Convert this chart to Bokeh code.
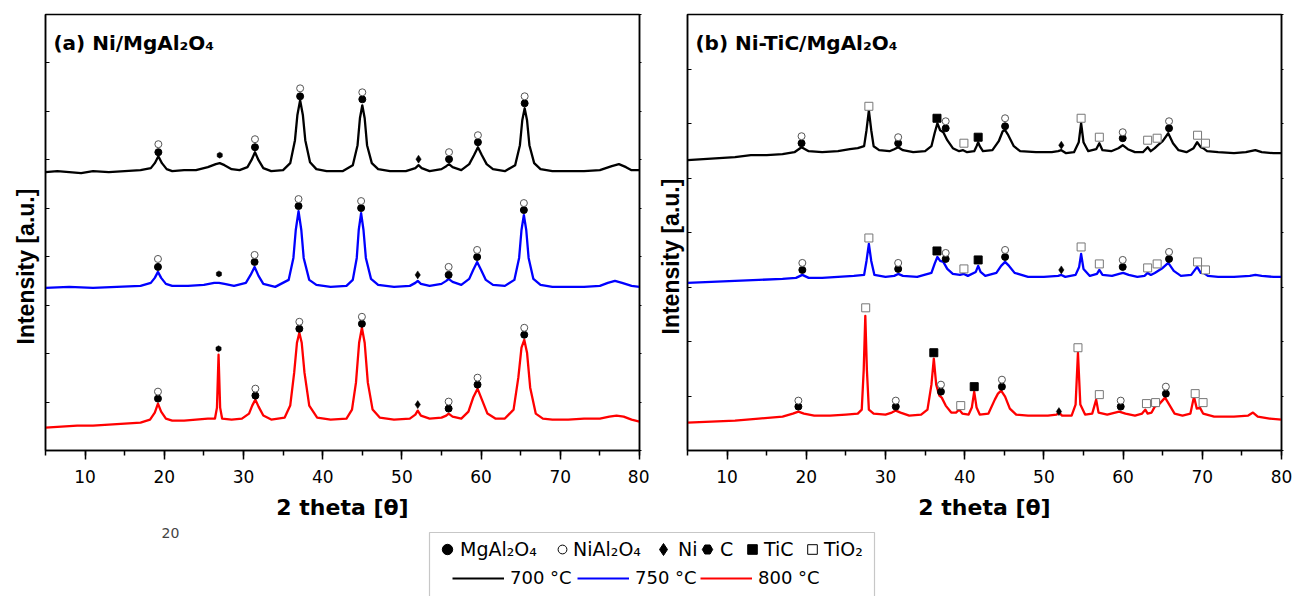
import numpy as np
from bokeh.plotting import figure
from bokeh.models import (Range1d, LinearAxis, SingleIntervalTicker, FixedTicker,
                          Label, Legend, LegendItem, BoxAnnotation, Title)
from bokeh.layouts import column, row
from bokeh.embed import file_html
from bokeh.resources import INLINE

FONT = "Liberation Sans"
WIDE = "DejaVu Sans"

# ---------------- data: panel (a) Ni/MgAl2O4 ----------------
# 2 theta [deg] and intensity [a.u.] above each pattern's own baseline
a700_x = [5.0, 6.5, 8.0, 9.5, 11.0, 13.0, 15.0, 17.0, 18.3, 18.8, 19.25, 19.7, 20.3, 21.0, 22.5, 24.0, 25.5, 26.5, 27.0, 27.6, 28.5, 29.5, 30.5, 31.0, 31.45, 31.9, 32.5, 33.5, 35.0, 35.9, 36.5, 36.8, 37.15, 37.5, 37.8, 38.4, 39.2, 40.5, 42.5, 43.8, 44.4, 44.7, 45.0, 45.3, 45.6, 46.2, 47.0, 48.5, 50.5, 51.7, 52.1, 52.5, 53.5, 55.0, 55.6, 55.95, 56.4, 57.5, 58.5, 59.1, 59.6, 60.1, 60.7, 61.5, 63.0, 64.3, 64.9, 65.2, 65.5, 65.8, 66.1, 66.7, 67.5, 69.0, 71.0, 73.0, 75.0, 76.5, 77.4, 78.3, 79.0, 80.0]
a700_y = [0, 1, 0, -1, 1, 0, 1, 2, 4, 9, 16, 9, 3, 1, 2, 2, 5, 8, 9, 7, 3, 2, 5, 12, 20, 12, 4, 1, 2, 9, 32, 57, 72, 57, 32, 10, 3, 1, 1, 7, 27, 54, 67, 54, 27, 9, 3, 1, 1, 4, 7, 4, 1, 3, 6, 8, 5, 2, 8, 17, 25, 17, 8, 3, 1, 7, 27, 52, 64, 52, 27, 9, 3, 1, 1, 1, 2, 6, 8, 5, 2, 2]

a750_x = [5, 8, 11, 14, 17, 18.3, 18.8, 19.2, 19.6, 20.2, 21, 23, 25, 26.3, 26.9, 27.6, 28.8, 30.3, 30.9, 31.4, 31.9, 32.5, 34, 35.7, 36.3, 36.6, 36.95, 37.3, 37.6, 38.3, 39.2, 41, 43, 43.8, 44.3, 44.55, 44.85, 45.15, 45.45, 46.1, 47, 49, 51, 51.7, 52.0, 52.4, 53.5, 55, 55.6, 55.9, 56.4, 57.5, 58.5, 59.0, 59.5, 60.0, 60.6, 61.5, 63, 64.2, 64.8, 65.1, 65.4, 65.7, 66.0, 66.6, 67.5, 69, 71, 73, 75, 76, 76.9, 77.8, 79, 80]
a750_y = [0, 1, 0, 1, 2, 5, 10, 16, 10, 4, 2, 2, 3, 5, 5, 4, 2, 5, 13, 21, 12, 4, 1, 8, 30, 58, 77, 58, 30, 8, 3, 1, 2, 8, 30, 58, 75, 58, 30, 9, 3, 1, 2, 5, 7, 4, 2, 4, 7, 9, 6, 3, 9, 18, 26, 18, 8, 3, 2, 8, 30, 58, 73, 58, 30, 9, 3, 1, 1, 1, 2, 5, 7, 5, 2, 1]

a800_x = [5, 7, 9, 11, 13, 15, 17, 18.2, 18.8, 19.2, 19.6, 20.2, 21, 22.5, 24, 25.5, 26.4, 26.65, 26.85, 27.05, 27.3, 28.5, 29.8, 30.7, 31.1, 31.5, 31.9, 32.5, 33.5, 35.2, 35.9, 36.4, 36.75, 37.05, 37.35, 37.7, 38.3, 39.3, 41, 43, 43.7, 44.2, 44.6, 44.95, 45.3, 45.7, 46.3, 47.2, 49, 51, 51.7, 52.0, 52.4, 53.5, 55, 55.6, 55.9, 56.4, 57.5, 58.4, 59.0, 59.55, 60.1, 60.8, 61.8, 63, 64.1, 64.7, 65.1, 65.45, 65.8, 66.2, 66.9, 67.8, 69, 71, 73, 75, 76.2, 77.1, 78, 79, 80]
a800_y = [0, 1, 2, 2, 3, 4, 5, 8, 15, 24, 16, 9, 7, 7, 8, 9, 9, 20, 73, 20, 9, 8, 9, 14, 22, 28, 21, 12, 8, 10, 22, 55, 85, 95, 85, 55, 22, 10, 8, 9, 18, 45, 85, 100, 85, 45, 18, 10, 8, 9, 13, 17, 12, 9, 10, 12, 14, 11, 9, 16, 30, 39, 28, 14, 9, 9, 18, 50, 80, 88, 75, 40, 14, 9, 8, 8, 9, 9, 11, 12, 11, 8, 6]

# vertical stacking offsets of the three patterns [a.u.]
a_offsets = {"700": 279, "750": 163, "800": 23}

# phase markers, panel (a)
a_mk_phase = ["mg", "nial", "c", "mg", "nial", "mg", "nial", "mg", "nial", "ni", "mg", "nial", "mg", "nial", "mg", "nial"]
a700_mk_x = [19.25, 19.25, 27.0, 31.45, 31.45, 37.15, 37.15, 45.0, 45.0, 52.1, 55.95, 55.95, 59.6, 59.6, 65.5, 65.5]
a700_mk_y = [20, 28, 17, 25, 33, 76, 84, 73, 80, 13, 13, 20, 30, 37, 69, 76]
a750_mk_x = [19.2, 19.2, 26.9, 31.4, 31.4, 36.95, 36.95, 44.85, 44.85, 52.0, 55.9, 55.9, 59.5, 59.5, 65.4, 65.4]
a750_mk_y = [21, 29, 14, 26, 33, 82, 89, 80, 87, 13, 13, 21, 31, 38, 78, 85]
a800_mk_x = [19.2, 19.2, 26.85, 31.5, 31.5, 37.05, 37.05, 44.95, 44.95, 52.0, 55.9, 55.9, 59.55, 59.55, 65.45, 65.45]
a800_mk_y = [29, 36, 79, 32, 39, 99, 106, 104, 111, 23, 19, 26, 43, 50, 93, 100]

# ---------------- data: panel (b) Ni-TiC/MgAl2O4 ----------------
b700_x = [5, 7, 9, 11, 13, 15, 17, 18.5, 19.4, 20.3, 22, 24, 25.5, 26.5, 27.3, 27.6, 27.9, 28.2, 28.5, 29.2, 30.5, 31.1, 31.6, 32.2, 33.5, 35, 35.8, 36.2, 36.55, 36.9, 37.3, 37.8, 38.5, 39.3, 39.8, 40.3, 41.2, 41.5, 41.7, 41.9, 42.3, 43.5, 44.3, 44.8, 45.1, 45.5, 46.2, 47, 49, 51, 51.8, 52.2, 52.8, 53.8, 54.4, 54.7, 55.0, 55.6, 56.6, 57.0, 57.4, 58.5, 59.4, 59.95, 60.6, 61.5, 62.5, 63.1, 63.5, 64.0, 64.4, 65.0, 65.7, 66.3, 67, 68, 68.9, 69.35, 69.8, 70.1, 70.6, 72, 74, 75.5, 76.7, 77.5, 79, 80]
b700_y = [0, 1, 2, 3, 5, 5, 6, 8, 13, 9, 8, 9, 11, 12, 14, 30, 50, 30, 14, 10, 9, 11, 13, 10, 8, 9, 14, 27, 37, 30, 28, 20, 12, 9, 10, 8, 9, 14, 18, 14, 9, 10, 19, 29, 30, 25, 14, 9, 8, 8, 9, 10, 7, 8, 18, 37, 18, 9, 11, 17, 10, 9, 12, 15, 11, 8, 8, 13, 9, 12, 15, 19, 27, 17, 10, 8, 12, 18, 13, 12, 9, 8, 7, 8, 10, 8, 7, 7]

b750_x = [5, 8, 11, 14, 17, 18.7, 19.5, 20.3, 22, 24, 26, 27.3, 27.6, 27.9, 28.2, 28.6, 30, 31.1, 31.6, 32.2, 34, 35.8, 36.2, 36.55, 36.9, 37.3, 37.8, 38.5, 39.4, 39.9, 40.4, 41.4, 41.7, 42.0, 42.6, 44.0, 44.6, 45.1, 45.6, 46.3, 48, 50, 51.8, 52.2, 52.7, 54.0, 54.45, 54.7, 55.0, 55.8, 56.7, 57.0, 57.4, 58.6, 59.5, 60.0, 60.7, 61.8, 62.7, 63.1, 63.5, 64.0, 64.4, 65.0, 65.7, 66.4, 67.3, 68.6, 69.35, 69.8, 70.15, 70.7, 72, 74, 76, 76.7, 77.5, 79, 80]
b750_y = [0, 1, 2, 3, 4, 5, 8, 5, 5, 6, 7, 8, 22, 39, 22, 8, 6, 7, 9, 7, 6, 10, 19, 26, 22, 21, 14, 9, 8, 9, 7, 11, 17, 11, 7, 10, 17, 21, 17, 10, 6, 6, 7, 8, 6, 8, 16, 29, 14, 7, 9, 13, 8, 7, 9, 10, 8, 6, 7, 10, 8, 10, 12, 15, 20, 12, 7, 8, 16, 10, 10, 7, 6, 6, 7, 8, 7, 6, 6]

b800_x = [5, 8, 11, 14, 17, 18.3, 19.0, 19.7, 21, 23, 25, 26.5, 27.0, 27.25, 27.45, 27.65, 27.9, 28.5, 30, 30.8, 31.3, 31.9, 33, 34.5, 35.3, 35.8, 36.1, 36.4, 36.8, 37.1, 37.6, 38.3, 38.9, 39.3, 39.7, 40.5, 40.9, 41.2, 41.5, 41.9, 43.0, 43.8, 44.2, 44.6, 45.1, 45.7, 46.5, 48, 50.5, 51.6, 51.9, 52.3, 53.5, 54.0, 54.3, 54.6, 55.2, 56.1, 56.6, 56.9, 58, 59.5, 60.3, 61.5, 62.4, 62.8, 63.1, 63.6, 64.0, 64.5, 65.3, 65.9, 66.5, 67.5, 68.5, 68.95, 69.3, 69.7, 70.1, 71.5, 74, 75.8, 76.4, 77, 78.5, 80]
b800_y = [0, 1, 2, 4, 6, 9, 11, 9, 7, 7, 8, 9, 13, 53, 107, 53, 13, 9, 8, 10, 12, 10, 7, 8, 13, 38, 64, 38, 27, 25, 17, 10, 10, 13, 9, 8, 15, 31, 15, 8, 9, 23, 29, 32, 26, 14, 8, 7, 7, 8, 10, 7, 7, 18, 70, 18, 8, 9, 23, 10, 8, 11, 9, 7, 9, 13, 9, 10, 16, 18, 25, 17, 9, 7, 9, 26, 14, 15, 9, 6, 6, 7, 10, 6, 4, 3]

b_offsets = {"700": 291, "750": 168, "800": 28}

b_mk_phase = ["mg", "nial", "tio2", "mg", "nial", "tic", "mg", "nial", "tio2", "tic", "mg", "nial", "ni", "tio2", "tio2", "mg", "nial", "tio2", "tio2", "mg", "nial", "tio2", "tio2"]
b700_mk_x = [19.4, 19.4, 27.9, 31.6, 31.6, 36.5, 37.6, 37.6, 39.9, 41.7, 45.1, 45.1, 52.2, 54.7, 57.0, 59.95, 59.95, 63.1, 64.3, 65.8, 65.8, 69.4, 70.4]
b700_mk_y = [17, 24, 54, 17, 23, 42, 32, 39, 17, 23, 34, 42, 15, 42, 23, 22, 28, 20, 22, 32, 39, 25, 17]
b750_mk_x = [19.5, 19.5, 27.9, 31.6, 31.6, 36.5, 37.6, 37.6, 39.9, 41.7, 45.1, 45.1, 52.2, 54.7, 57.0, 59.95, 59.95, 63.1, 64.3, 65.8, 65.8, 69.4, 70.4]
b750_mk_y = [13, 20, 45, 14, 20, 32, 24, 30, 14, 23, 26, 33, 13, 36, 19, 16, 23, 15, 19, 24, 31, 21, 13]
b800_mk_x = [19.0, 19.0, 27.5, 31.3, 31.3, 36.1, 37.0, 37.0, 39.5, 41.2, 44.7, 44.7, 51.9, 54.3, 57.0, 59.7, 59.7, 62.95, 64.1, 65.4, 65.4, 69.1, 70.1]
b800_mk_y = [16, 22, 115, 16, 22, 70, 31, 38, 17, 36, 36, 43, 11, 75, 28, 16, 22, 19, 20, 29, 36, 29, 20]

temps = ["700", "750", "800"]
temp_labels = ["700 \u00b0C", "750 \u00b0C", "800 \u00b0C"]
temp_colors = ["#000000", "#0000ff", "#ff0000"]

phase_names = {"mg": "MgAl\u2082O\u2084", "nial": "NiAl\u2082O\u2084", "ni": "Ni",
               "c": "C", "tic": "TiC", "tio2": "TiO\u2082"}
phase_order = ["mg", "nial", "ni", "c", "tic", "tio2"]

# ---------------- styles ----------------
MARK = {
    "mg":   dict(marker="circle", size=7, fill_color="#000000", line_color="#000000", line_width=1),
    "nial": dict(marker="circle", size=7, fill_color="#ffffff", line_color="#555555", line_width=1),
    "ni":   dict(marker="diamond", size=8, fill_color="#000000", line_color="#000000", line_width=0.5),
    "c":    dict(marker="hex", size=6, angle=np.pi / 2, fill_color="#000000", line_color="#000000", line_width=0.5),
    "tic":  dict(marker="square", size=8, fill_color="#000000", line_color="#000000", line_width=1),
    "tio2": dict(marker="square", size=8, fill_color="#ffffff", line_color="#777777", line_width=1),
}

Y_TOP = 437
PANEL_H = 522


def make_panel(title, series, offsets, mk_phase, n_yint, width, bl, br, ylab_offset, ylab_standoff):
    p = figure(width=width, height=PANEL_H, x_range=Range1d(5, 80), y_range=Range1d(0, Y_TOP),
               toolbar_location=None, output_backend="svg",
               min_border_left=bl, min_border_right=br, min_border_top=14,
               min_border_bottom=PANEL_H - 14 - Y_TOP)
    p.grid.visible = False
    p.outline_line_color = "#000000"
    p.outline_line_width = 1.5
    p.background_fill_color = "#ffffff"
    p.border_fill_color = "#ffffff"

    xa = p.xaxis[0]
    xa.ticker = SingleIntervalTicker(interval=10, num_minor_ticks=2)
    xa.axis_line_width = 1.5
    xa.major_tick_line_width = 1.5
    xa.minor_tick_line_width = 1.5
    xa.major_tick_out = 9
    xa.major_tick_in = 0
    xa.minor_tick_out = 5
    xa.minor_tick_in = 0
    xa.major_label_text_font = WIDE
    xa.major_label_text_font_size = "17px"
    xa.major_label_text_color = "#000000"
    xa.major_label_standoff = 10
    xa.axis_label = "2 theta [\u03b8]"
    xa.axis_label_text_font = WIDE
    xa.axis_label_text_font_style = "bold"
    xa.axis_label_text_font_size = "22px"
    xa.axis_label_text_color = "#000000"
    xa.axis_label_standoff = 9

    yticks = list(np.linspace(0, Y_TOP, n_yint + 1))
    ya = p.yaxis[0]
    ya.ticker = FixedTicker(ticks=yticks, minor_ticks=[])
    ya.axis_line_width = 1.5
    ya.major_tick_in = 4
    ya.major_tick_out = 0
    ya.major_tick_line_width = 1
    ya.major_label_text_font_size = "1px"
    ya.major_label_text_color = None
    ya.major_label_standoff = 0

    ra = LinearAxis(ticker=FixedTicker(ticks=yticks, minor_ticks=[]),
                    major_tick_in=0, major_tick_out=2, major_tick_line_width=1,
                    major_label_text_font_size="1px", major_label_text_color=None,
                    major_label_standoff=0, axis_line_width=1.5)
    p.add_layout(ra, "right")

    p.add_layout(Title(text="Intensity [a.u.]", align="left", offset=ylab_offset,
                       standoff=ylab_standoff, text_font=FONT, text_font_style="bold",
                       text_font_size="23px", text_color="#000000"), "left")

    for t, color in zip(temps, temp_colors):
        xs, ys, mx, my = series[t]
        off = offsets[t]
        p.line(xs, [v + off for v in ys], line_color=color, line_width=2.3, line_join="round")
    for t in temps:
        xs, ys, mx, my = series[t]
        off = offsets[t]
        for ph in phase_order:
            sx = [x for x, k in zip(mx, mk_phase) if k == ph]
            sy = [y + off for y, k in zip(my, mk_phase) if k == ph]
            if sx:
                p.scatter(sx, sy, **MARK[ph])

    p.add_layout(Label(x=6.0, y=408, text=title, text_font=WIDE, text_font_style="bold",
                       text_font_size="20px", text_color="#000000", text_baseline="alphabetic"))
    return p


series_a = {"700": (a700_x, a700_y, a700_mk_x, a700_mk_y),
            "750": (a750_x, a750_y, a750_mk_x, a750_mk_y),
            "800": (a800_x, a800_y, a800_mk_x, a800_mk_y)}
series_b = {"700": (b700_x, b700_y, b700_mk_x, b700_mk_y),
            "750": (b750_x, b750_y, b750_mk_x, b750_mk_y),
            "800": (b800_x, b800_y, b800_mk_x, b800_mk_y)}

pa = make_panel("(a) Ni/MgAl\u2082O\u2084", series_a, a_offsets, a_mk_phase, 9, 649, 45, 10, 106, 14)
pb = make_panel("(b) Ni-TiC/MgAl\u2082O\u2084", series_b, b_offsets, b_mk_phase, 8, 644, 38, 12, 116, 8)

# ---------------- legend strip ----------------
LW, LH = 1293, 596 - PANEL_H
pl = figure(width=LW, height=LH, x_range=Range1d(0, LW), y_range=Range1d(0, LH),
            toolbar_location=None, output_backend="svg", x_axis_type=None, y_axis_type=None,
            min_border=0)
pl.grid.visible = False
pl.outline_line_color = None
pl.background_fill_color = "#ffffff"
pl.border_fill_color = "#ffffff"
pl.add_layout(BoxAnnotation(left=429, right=874, top=596 - 532, bottom=-30, fill_alpha=0,
                            line_color="#444444", line_width=1.2))

# stray "20" text under panel (a)
pl.add_layout(Label(x=170, y=LH - 10, text="20", text_font=WIDE, text_font_size="14px",
                    text_color="#444444", text_align="center", text_baseline="middle"))

LEG_MARK = {
    "mg":   dict(marker="circle", fill_color="#000000", line_color="#000000"),
    "nial": dict(marker="circle", fill_color="#ffffff", line_color="#000000", line_width=1),
    "ni":   dict(marker="diamond", fill_color="#000000", line_color="#000000"),
    "c":    dict(marker="hex", angle=np.pi / 2, fill_color="#000000", line_color="#000000"),
    "tic":  dict(marker="square", fill_color="#000000", line_color="#000000"),
    "tio2": dict(marker="square", fill_color="#ffffff", line_color="#000000", line_width=1),
}
# legend key box sizes (marker drawn at 0.4 x box) and key centres in page pixels
leg_box = {"mg": 26, "nial": 22, "ni": 30, "c": 26, "tic": 24, "tio2": 24}
leg_cx = {"mg": 447, "nial": 562, "ni": 663, "c": 707, "tic": 752, "tio2": 812}
ROW1_CY = 596 - 549
ROW2_CY = 596 - 578


def add_legend(r, label, x0, y0, gw, gh, standoff, fsize):
    lg = Legend(items=[LegendItem(label=label, renderers=[r])], location=(x0, y0),
                orientation="horizontal", glyph_width=gw, glyph_height=gh,
                label_standoff=standoff, padding=0, margin=0, spacing=0,
                border_line_color=None, background_fill_alpha=0,
                label_text_font=WIDE, label_text_font_size=fsize, label_text_color="#000000",
                label_height=20)
    pl.add_layout(lg)


for ph in phase_order:
    r = pl.scatter([-50], [-50], size=10, **LEG_MARK[ph])
    g = leg_box[ph]
    add_legend(r, phase_names[ph], leg_cx[ph] - g / 2, ROW1_CY - g / 2, g, g,
               int(round(9 - g / 2)), "19px")

line_x0 = [452, 577, 700]
for t, lab, color, x0 in zip(temps, temp_labels, temp_colors, line_x0):
    r = pl.line([-50, -40], [-50, -50], line_color=color, line_width=2)
    add_legend(r, lab, x0, ROW2_CY - 10, 52, 20, 6, "18px")

layout = column(row(pa, pb), pl)
open("out.html", "w").write(file_html(layout, INLINE))
